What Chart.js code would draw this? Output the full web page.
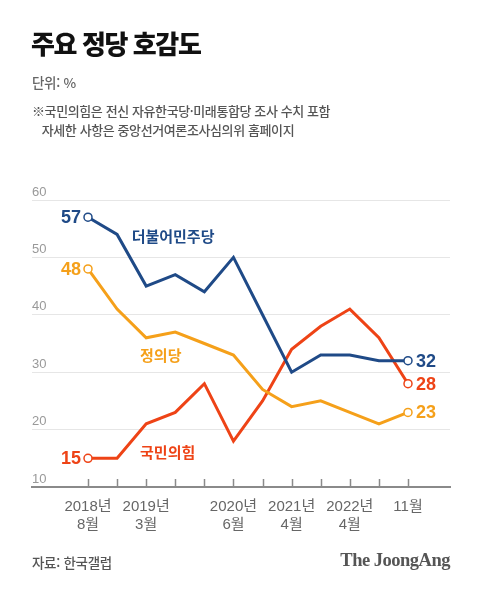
<!DOCTYPE html>
<html lang="ko">
<head>
<meta charset="utf-8">
<script src="https://cdn.jsdelivr.net/npm/chart.js@4"></script>
<style>
  body { margin: 0; background: #fff; }
  #wrap { position: relative; width: 480px; height: 589px; font-family: 'Noto Sans CJK KR', sans-serif; }
  #chart { position: absolute; left: 0; top: 0; }
  .txt { position: absolute; white-space: nowrap; }
  #title { left: 31px; top: 24px; font-size: 26px; font-weight: 900; color: #111; letter-spacing: -1.4px; }
  #unit { left: 32px; top: 72px; font-size: 13.5px; font-weight: 500; color: #666; letter-spacing: -0.3px; }
  #note { left: 32px; top: 101px; font-size: 13px; font-weight: 500; color: #555; letter-spacing: -0.4px; line-height: 19px; }
  #src { left: 32px; top: 552px; font-size: 13.5px; font-weight: 500; color: #555; letter-spacing: -0.3px; }
  #logo { right: 30px; top: 550px; font-family: 'Liberation Serif', 'DejaVu Serif', serif; font-weight: 700; font-size: 18.5px; color: #555; letter-spacing: -0.5px; }
</style>
</head>
<body>
<div id="wrap">
  <canvas id="chart" width="480" height="589"></canvas>
  <div class="txt" id="title">주요 정당 호감도</div>
  <div class="txt" id="unit">단위: %</div>
  <div class="txt" id="note">※국민의힘은 전신 자유한국당·미래통합당 조사 수치 포함<br>&nbsp;&nbsp;&nbsp;자세한 사항은 중앙선거여론조사심의위 홈페이지</div>
  <div class="txt" id="src">자료: 한국갤럽</div>
  <div class="txt" id="logo">The JoongAng</div>
</div>
<script>
// 조사 시점 (빈 칸은 눈금만 표시)
const periods = ['2018년\n8월', '', '2019년\n3월', '', '', '2020년\n6월', '', '2021년\n4월', '', '2022년\n4월', '', '11월'];
const minjoo = [57, 54, 45, 47, 44, 50, 40, 30, 33, 33, 32, 32];
const justice = [48, 41, 36, 37, 35, 33, 27, 24, 25, 23, 21, 23];
const ppp = [15, 15, 21, 23, 28, 18, 25, 34, 38, 41, 36, 28];
const yTicks = [10, 20, 30, 40, 50, 60];

const seriesNames = ['더불어민주당', '정의당', '국민의힘'];
const colors = ['#1f4a87', '#f5a01a', '#ee4316'];
// 정당 이름 위치 (데이터 좌표)
const nameSpots = [{ x: 1.5, y: 53.7 }, { x: 1.79, y: 33.0 }, { x: 1.79, y: 16.0 }];

const toPoints = arr => arr.map((v, i) => ({ x: i, y: v }));
const lastIdx = periods.length - 1;

const makeSet = (label, values, color) => ({
    label: label,
    data: toPoints(values),
    borderColor: color,
    borderWidth: 3,
    tension: 0,
    pointRadius: ctx => (ctx.dataIndex === 0 || ctx.dataIndex === lastIdx) ? 4 : 0,
    pointBackgroundColor: '#fff',
    pointBorderColor: color,
    pointBorderWidth: 1.5,
    clip: false
});

const labelPlugin = {
    id: 'labels',
    afterDatasetsDraw(chart) {
        const ctx = chart.ctx;
        const xs = chart.scales.x, ys = chart.scales.y;
        ctx.save();
        // x축 위쪽 눈금
        ctx.strokeStyle = '#8a8a8a';
        ctx.lineWidth = 1.5;
        periods.forEach((p, i) => {
            const px = Math.round(xs.getPixelForValue(i)) + 0.5;
            ctx.beginPath();
            ctx.moveTo(px, ys.bottom);
            ctx.lineTo(px, ys.bottom - 8);
            ctx.stroke();
        });
        ctx.textBaseline = 'middle';
        chart.data.datasets.forEach((ds, d) => {
            const first = ds.data[0], last = ds.data[lastIdx];
            ctx.fillStyle = colors[d];
            ctx.font = "bold 18px 'Liberation Sans', Arial, sans-serif";
            ctx.textAlign = 'right';
            ctx.fillText(String(first.y), xs.getPixelForValue(first.x) - 7, ys.getPixelForValue(first.y) + 1);
            ctx.textAlign = 'left';
            ctx.fillText(String(last.y), xs.getPixelForValue(last.x) + 8, ys.getPixelForValue(last.y) + 1);
            ctx.font = "bold 15px 'Noto Sans CJK KR', sans-serif";
            ctx.fillText(seriesNames[d], xs.getPixelForValue(nameSpots[d].x), ys.getPixelForValue(nameSpots[d].y));
        });
        ctx.restore();
    }
};

Chart.defaults.font.family = "'Liberation Sans', 'Noto Sans CJK KR', sans-serif";

new Chart(document.getElementById('chart'), {
    type: 'line',
    data: {
        datasets: [
            makeSet(seriesNames[0], minjoo, colors[0]),
            makeSet(seriesNames[1], justice, colors[1]),
            makeSet(seriesNames[2], ppp, colors[2])
        ]
    },
    options: {
        responsive: false,
        animation: false,
        layout: { padding: { left: 32, right: 30, top: 200, bottom: 50 } },
        plugins: { legend: { display: false }, tooltip: { enabled: false } },
        scales: {
            x: {
                type: 'linear',
                min: -1.925,
                max: 12.444,
                afterBuildTicks: scale => { scale.ticks = periods.map((p, i) => ({ value: i })); },
                afterFit: scale => { scale.height = 52; },
                grid: { display: false },
                border: { display: true, color: '#8a8a8a', width: 2 },
                ticks: {
                    autoSkip: false,
                    maxRotation: 0,
                    padding: 2,
                    color: '#666',
                    font: { size: 15, lineHeight: 1.25 },
                    callback: (v, i) => periods[i] ? periods[i].split('\n') : ''
                }
            },
            y: {
                min: 10,
                max: 60,
                afterBuildTicks: scale => { scale.ticks = yTicks.map(v => ({ value: v })); },
                afterFit: scale => { scale.width = 0; },
                grid: { color: '#e6e6e6', lineWidth: 1, drawTicks: false },
                border: { display: false },
                ticks: {
                    mirror: true,
                    padding: 0,
                    labelOffset: -8,
                    color: '#999',
                    font: { size: 13 }
                }
            }
        }
    },
    plugins: [labelPlugin]
});
</script>
</body>
</html>
